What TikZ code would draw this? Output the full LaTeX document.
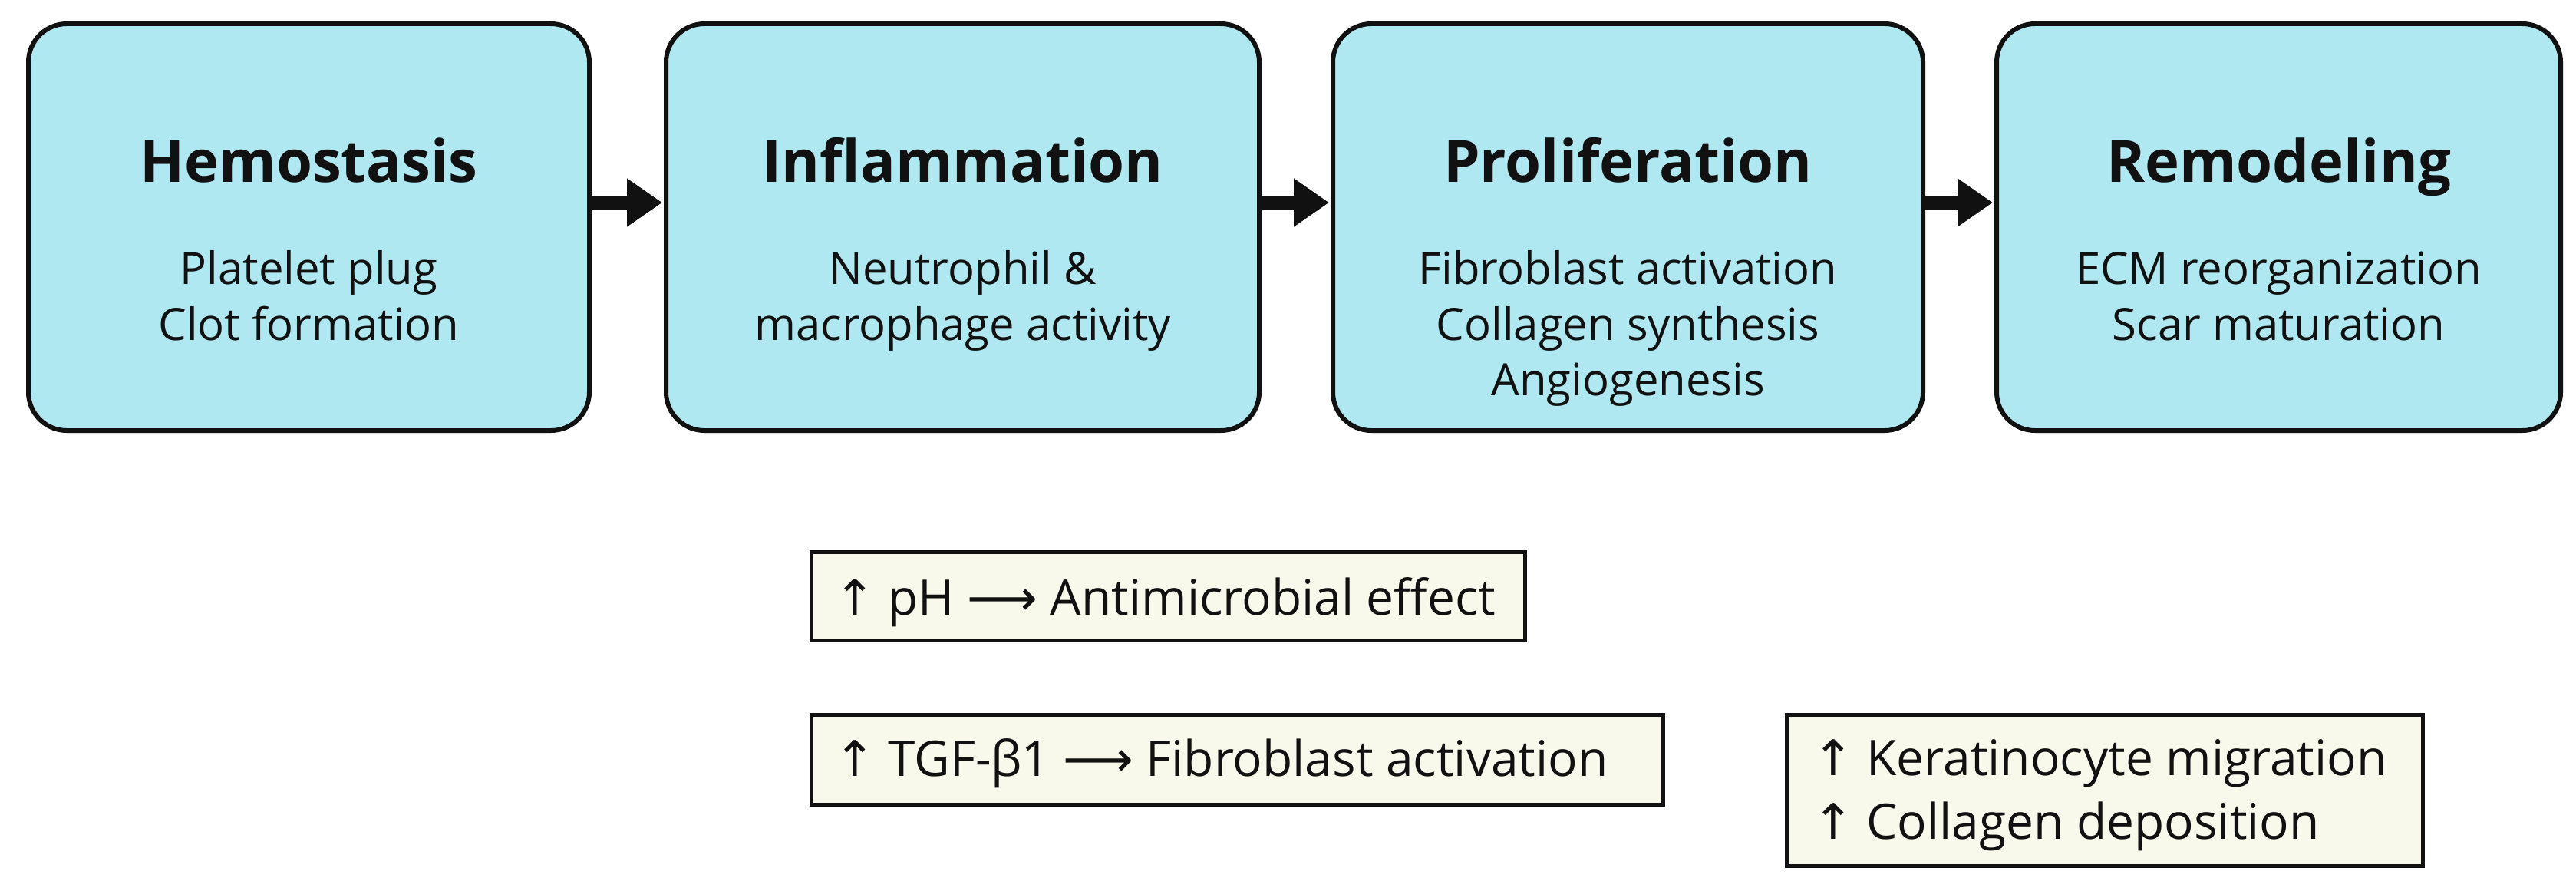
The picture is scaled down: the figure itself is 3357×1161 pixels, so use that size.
\documentclass[tikz,border=0pt]{standalone}
\usepackage{fontspec}
\setmainfont{Open Sans}
\newfontfamily\sym{DejaVu Sans}
\usetikzlibrary{arrows.meta}
\definecolor{phasefill}{HTML}{AFE8F0}
\definecolor{notefill}{HTML}{F8F8EB}
\definecolor{ink}{HTML}{111111}
\begin{document}
\begin{tikzpicture}[x=1pt,y=-1pt,
  phase/.style={draw=ink, line width=6pt, fill=phasefill, rounded corners=50pt, inner sep=0pt, anchor=north west, minimum height=530pt},
  note/.style={draw=ink, line width=5pt, fill=notefill, inner sep=0pt, anchor=north west},
  titletext/.style={font=\fontsize{76}{90}\selectfont\bfseries, anchor=base, inner sep=0pt, text=ink},
  bodytext/.style={font=\fontsize{58}{70}\selectfont, anchor=base, inner sep=0pt, text=ink},
  notetext/.style={font=\fontsize{64}{76}\selectfont, anchor=base west, inner sep=0pt, text=ink},
  flow/.style={draw=ink, line width=18pt, -{Triangle[length=46pt,width=60pt]}, shorten >=2pt}
]
\useasboundingbox (0,0) rectangle (3357,1161);
\fill[white] (0,0) rectangle (3357,1161);

% rows
\coordinate (ty) at (0,237);
\coordinate (sa) at (0,370);
\coordinate (sb) at (0,443);
\coordinate (sc) at (0,515);
\coordinate (ay) at (0,264);

% phase boxes
\node[phase, minimum width=731pt] (b1) at (34,28) {};
\node[phase, minimum width=773pt] (b2) at (865,28) {};
\node[phase, minimum width=769pt] (b3) at (1734,28) {};
\node[phase, minimum width=735pt] (b4) at (2599,28) {};

% titles
\node[titletext] (t1) at (b1.center |- ty) {Hemostasis};
\node[titletext] (t2) at (b2.center |- ty) {Inflammation};
\node[titletext] (t3) at (b3.center |- ty) {Proliferation};
\node[titletext] (t4) at (b4.center |- ty) {Remodeling};

% bodies
\node[bodytext] (s1a) at (b1.center |- sa) {Platelet plug};
\node[bodytext] (s1b) at (b1.center |- sb) {Clot formation};
\node[bodytext] (s2a) at (b2.center |- sa) {Neutrophil \&};
\node[bodytext] (s2b) at (b2.center |- sb) {macrophage activity};
\node[bodytext] (s3a) at (b3.center |- sa) {Fibroblast activation};
\node[bodytext] (s3b) at (b3.center |- sb) {Collagen synthesis};
\node[bodytext] (s3c) at (b3.center |- sc) {Angiogenesis};
\node[bodytext] (s4a) at (b4.center |- sa) {ECM reorganization};
\node[bodytext] (s4b) at (b4.center |- sb) {Scar maturation};

% arrows
\draw[flow] (b1.east |- ay) -- (b2.west |- ay);
\draw[flow] (b2.east |- ay) -- (b3.west |- ay);
\draw[flow] (b3.east |- ay) -- (b4.west |- ay);

% notes
\node[note, minimum width=930pt, minimum height=115pt] (n1) at (1054.5,716.5) {};
\node[note, minimum width=1110pt, minimum height=117pt] (n2) at (1054.5,928.5) {};
\node[note, minimum width=829pt, minimum height=197pt] (n3) at (2325.5,928.5) {};

\node[notetext] (n1t) at (1087,801) {{\sym ↑} pH {\sym ⟶} Antimicrobial effect};
\node[notetext] (n2t) at (1087,1011) {{\sym ↑} TGF-β1 {\sym ⟶} Fibroblast activation};
\node[notetext] (n3a) at (2362,1010) {{\sym ↑} Keratinocyte migration};
\node[notetext] (n3b) at (2362,1093) {{\sym ↑} Collagen deposition};
\end{tikzpicture}
\end{document}
